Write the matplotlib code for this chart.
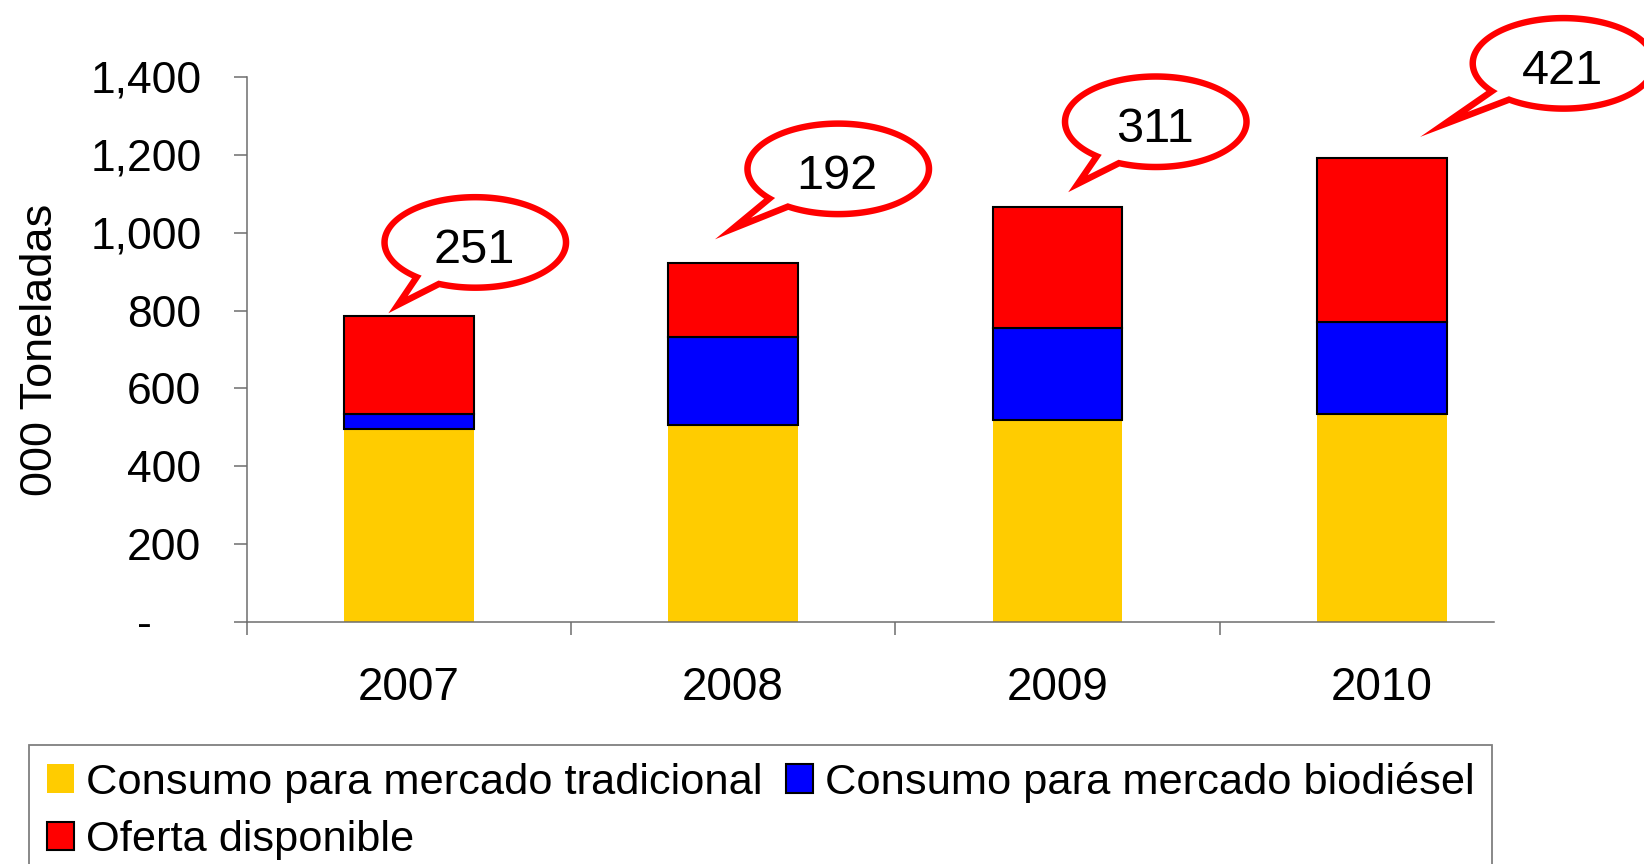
import numpy as np
import matplotlib
matplotlib.use("Agg")
import matplotlib.pyplot as plt
from matplotlib.patches import Patch, Polygon
from matplotlib.transforms import IdentityTransform
from matplotlib.ticker import FuncFormatter

plt.rcParams['font.family'] = ['Liberation Sans', 'DejaVu Sans']

# data
years = ['2007', '2008', '2009', '2010']
tradicional = [495, 507, 518, 535]
biodiesel = [40, 224, 237, 236]
oferta = [251, 192, 311, 421]
series_names = ['Consumo para mercado tradicional',
                'Consumo para mercado biodiésel',
                'Oferta disponible']

# callout placement relative to each bar top: (tip dx, tip dy, centre dx, centre dy)
callout_offsets = [(-0.063, 7, 0.205, 189),
                   (-0.056, 60, 0.324, 241),
                   (0.033, 38, 0.303, 219),
                   (0.118, 54, 0.560, 243)]

YELLOW, BLUE, RED = '#FFCC00', '#0000FF', '#FF0000'
AXIS_GREY = '#6e6e6e'

fig = plt.figure(figsize=(16.44, 8.64), dpi=100)
ax = fig.add_axes([0.15, 0.2801, 0.7588, 0.6308])

x = np.arange(len(years))
trad = np.array(tradicional)
bio = np.array(biodiesel)
ofe = np.array(oferta)

ax.bar(x, trad, width=0.4, color=YELLOW, linewidth=0)
ax.bar(x, bio, width=0.4, bottom=trad, color=BLUE, edgecolor='black', linewidth=1.5)
ax.bar(x, ofe, width=0.4, bottom=trad + bio, color=RED, edgecolor='black', linewidth=1.5)

ax.set_xlim(-0.5, 3.346)
ax.set_ylim(0, 1400)

for s in ['top', 'right']:
    ax.spines[s].set_visible(False)
for s in ['left', 'bottom']:
    ax.spines[s].set_color(AXIS_GREY)
    ax.spines[s].set_linewidth(1.1)

ax.set_yticks(np.arange(0, 1401, 200))
ax.yaxis.set_major_formatter(FuncFormatter(lambda v, p: '' if v == 0 else f'{int(v):,}'))
ax.tick_params(axis='y', direction='out', length=9.5, width=1.1, color=AXIS_GREY,
               labelsize=32, pad=23)
ax.text(-0.082, -8, '-', transform=ax.get_yaxis_transform(), ha='center', va='center',
        fontsize=32)

ax.set_xticks(x)
ax.set_xticklabels(years)
ax.set_xticks(np.arange(-0.5, 3.0, 1.0), minor=True)
ax.tick_params(axis='x', which='major', length=0, labelsize=33, pad=32)
ax.tick_params(axis='x', which='minor', direction='out', length=9.5, width=1.1,
               color=AXIS_GREY)

ax.set_ylabel('000 Toneladas', fontsize=32.5)
ax.yaxis.set_label_coords(-0.149, 0.5)


def ellipse_pt(c, a, b, t):
    return np.column_stack([c[0] + a * np.cos(t), c[1] + b * np.sin(t)])


def offset_line(p, q, d, toward):
    v = (q - p) / np.linalg.norm(q - p)
    n = np.array([-v[1], v[0]])
    if np.dot(n, toward - p) < 0:
        n = -n
    return p + n * d, v


def line_hit_ellipse(p, v, c, a, b, t0):
    # root of the line's signed distance along the ellipse, nearest to t0
    t = np.linspace(t0 - np.pi / 2, t0 + np.pi / 2, 2000)
    e = ellipse_pt(c, a, b, t)
    s = v[0] * (e[:, 1] - p[1]) - v[1] * (e[:, 0] - p[0])
    idx = np.where(np.sign(s[:-1]) != np.sign(s[1:]))[0]
    k = idx[np.argmin(np.abs(t[idx] - t0))]
    return t[k] - s[k] * (t[k + 1] - t[k]) / (s[k + 1] - s[k])


def intersect(p1, v1, p2, v2):
    m = np.array([v1, -v2]).T
    k = np.linalg.solve(m, p2 - p1)
    return p1 + v1 * k[0]


# speech-bubble callouts with the available supply
fig.canvas.draw()
totals = trad + bio + ofe
a_out, b_out, stroke = 94.0, 48.5, 6.5
half = np.radians(10)
for i, val in enumerate(oferta):
    tdx, tdy, cdx, cdy = callout_offsets[i]
    tip = ax.transData.transform((x[i] + tdx, totals[i] + tdy))
    c = ax.transData.transform((x[i] + cdx, totals[i] + cdy))
    phi = np.arctan2((tip[1] - c[1]) / b_out, (tip[0] - c[0]) / a_out)
    t = np.linspace(phi + half, phi + 2 * np.pi - half, 300)
    outer = np.vstack([ellipse_pt(c, a_out, b_out, t), tip])

    b1, b2 = outer[0], outer[-2]
    mid = (b1 + b2) / 2
    p1, v1 = offset_line(tip, b1, stroke, mid)
    p2, v2 = offset_line(tip, b2, stroke, mid)
    a_in, b_in = a_out - stroke, b_out - stroke
    t1 = line_hit_ellipse(p1, v1, c, a_in, b_in, phi + half)
    t2 = line_hit_ellipse(p2, v2, c, a_in, b_in, phi - half)
    tip_in = intersect(p1, v1, p2, v2)
    ti = np.linspace(t1, t2 + 2 * np.pi, 300)
    inner = np.vstack([ellipse_pt(c, a_in, b_in, ti), tip_in])

    fig.add_artist(Polygon(outer, closed=True, facecolor=RED, edgecolor='none',
                           transform=IdentityTransform(), clip_on=False, zorder=5))
    fig.add_artist(Polygon(inner, closed=True, facecolor='white', edgecolor='none',
                           transform=IdentityTransform(), clip_on=False, zorder=5.1))
    fig.text(c[0] - 1, c[1] - 8, str(val), transform=IdentityTransform(), ha='center',
             va='center', fontsize=35, zorder=6)

handles = [Patch(facecolor=YELLOW, edgecolor='none'),
           Patch(facecolor=RED, edgecolor='black', linewidth=1.5),
           Patch(facecolor=BLUE, edgecolor='black', linewidth=1.5)]
labels = [series_names[0], series_names[2], series_names[1]]
leg = fig.legend(handles, labels, loc='upper left', bbox_to_anchor=(0.0179, 0.1383),
                 bbox_transform=fig.transFigure, ncol=2, fontsize=31.2, frameon=True,
                 fancybox=False, borderaxespad=0, borderpad=0.4, handlelength=0.63,
                 handleheight=0.63, handletextpad=0.27, columnspacing=0.55,
                 labelspacing=0.4)
leg.get_frame().set_edgecolor('#606060')
leg.get_frame().set_linewidth(1.3)

fig.savefig('out.png', dpi=100)
